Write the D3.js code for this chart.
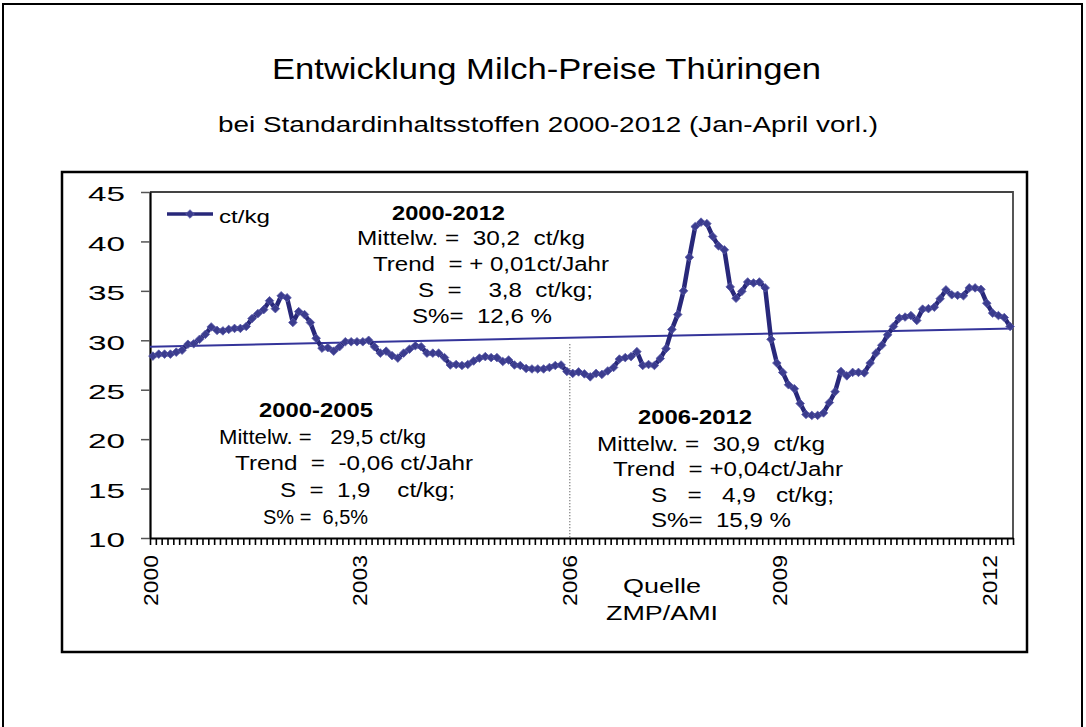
<!DOCTYPE html>
<html><head><meta charset="utf-8">
<script src="https://cdn.jsdelivr.net/npm/d3@7"></script>
<style>
body{margin:0;background:#fff}
text{font-family:"Liberation Sans",Arial,sans-serif;white-space:pre;fill:#000}
</style>
</head><body><script>
// ---------------- DATA ----------------
const title = "Entwicklung Milch-Preise Thüringen";
const subtitle = "bei Standardinhaltsstoffen 2000-2012 (Jan-April vorl.)";
const seriesName = "ct/kg";
const yearLabels = ["2000","2003","2006","2009","2012"];
const yearLabelIndex = [0,36,72,108,144];
const yTicks = [10,15,20,25,30,35,40,45];
// monthly prices Jan 2000 .. Apr 2012 (ct/kg)
const prices = [
 28.4,28.6,28.6,28.6,28.8,29.0,29.6,29.65,30.1,30.6,31.35,31.0,
 30.95,31.1,31.2,31.2,31.4,32.2,32.7,33.1,34.0,33.2,34.5,34.3,
 31.8,32.9,32.6,31.8,30.2,29.2,29.25,28.9,29.35,29.85,29.85,29.85,
 29.85,30.0,29.35,28.7,28.9,28.45,28.2,28.7,29.1,29.45,29.35,28.7,
 28.7,28.7,28.25,27.5,27.55,27.45,27.55,27.9,28.2,28.35,28.25,28.25,
 27.85,28.0,27.5,27.45,27.15,27.1,27.1,27.1,27.25,27.45,27.5,26.85,
 26.65,26.8,26.6,26.3,26.65,26.55,26.9,27.25,28.1,28.25,28.35,28.85,
 27.45,27.55,27.45,28.15,29.15,31.1,32.6,35.0,38.4,41.5,41.95,41.8,
 40.5,39.55,39.15,35.4,34.25,34.95,35.9,35.8,35.9,35.3,30.1,27.7,
 26.75,25.5,25.1,23.6,22.5,22.4,22.4,22.65,23.7,24.8,26.85,26.4,
 26.75,26.75,26.7,27.7,28.7,29.5,30.55,31.4,32.25,32.35,32.5,32.0,
 33.15,33.2,33.35,34.2,35.1,34.6,34.55,34.5,35.3,35.3,35.15,33.75,
 32.75,32.5,32.3,31.4
];
const trendEnds = [29.35, 31.2];   // linear trend 2000-2012 at axis start / end
const dividerIndex = 72;           // Jan 2006
const dividerTop = 29.6;
const blockAll = ["2000-2012","Mittelw. =  30,2  ct/kg","Trend  = + 0,01ct/Jahr","S  =    3,8  ct/kg;","S%=  12,6 %"];
const blockA = ["2000-2005","Mittelw. =   29,5 ct/kg","Trend  =  -0,06 ct/Jahr","S  =  1,9    ct/kg;","S% =  6,5%"];
const blockB = ["2006-2012","Mittelw. =  30,9  ct/kg","Trend  = +0,04ct/Jahr","S   =   4,9   ct/kg;","S%=  15,9 %"];
const sourceLines = ["Quelle","ZMP/AMI"];

// ---------------- DRAW ----------------
const W = 1086, H = 727;
const svg = d3.select("body").append("svg").attr("width", W).attr("height", H);

function txt(s, x, y, size, width, opts = {}) {
  const t = svg.append("text").attr("x", x).attr("y", y).attr("font-size", size).text(s);
  if (width) t.attr("textLength", width).attr("lengthAdjust", "spacingAndGlyphs");
  if (opts.bold) t.attr("font-weight", "bold");
  if (opts.anchor) t.attr("text-anchor", opts.anchor);
  return t;
}

// frames
svg.append("rect").attr("x", 3).attr("y", 4).attr("width", 1079).attr("height", 740)
  .attr("fill", "none").attr("stroke", "#000").attr("stroke-width", 2);
svg.append("rect").attr("x", 62).attr("y", 172).attr("width", 965).attr("height", 480)
  .attr("fill", "none").attr("stroke", "#000").attr("stroke-width", 2.5);

// titles
txt(title, 272, 79, 29, 549);
txt(subtitle, 218, 132, 22.5, 660);

// scales
const N = prices.length;
const x = d3.scaleLinear().domain([0, N]).range([150, 1013]);
const y = d3.scaleLinear().domain([10, 45]).range([538, 192]);

// plot area border (top/right)
svg.append("path").attr("d", `M${x(0)},${y(45)}H${x(N)}V${y(10)}`)
  .attr("fill", "none").attr("stroke", "#444").attr("stroke-width", 1.8);

// y axis
const gy = svg.append("g").attr("transform", `translate(${x(0)},0)`)
  .call(d3.axisLeft(y).tickValues(yTicks).tickSize(9).tickSizeOuter(0).tickPadding(16));
gy.attr("font-family", null).attr("font-size", null);
gy.select(".domain").attr("stroke", "#000").attr("stroke-width", 2.2);
gy.selectAll(".tick line").attr("stroke", "#555").attr("stroke-width", 1.5);
gy.selectAll(".tick text").attr("font-size", 21).attr("dy", "0.42em")
  .attr("textLength", 37).attr("lengthAdjust", "spacingAndGlyphs");

// x axis (monthly tick comb)
const gx = svg.append("g").attr("transform", `translate(0,${y(10)})`)
  .call(d3.axisBottom(x).tickValues(d3.range(N + 1)).tickSize(7).tickSizeOuter(0).tickFormat(""));
gx.select(".domain").attr("stroke", "#000").attr("stroke-width", 2.2);
gx.selectAll(".tick line").attr("stroke", "#000").attr("stroke-width", 1.6);

// year labels (rotated)
yearLabels.forEach((lab, k) => {
  svg.append("text").attr("transform", `translate(${x(yearLabelIndex[k])},555) rotate(-90)`)
    .attr("text-anchor", "end").attr("dominant-baseline", "central")
    .attr("font-size", 21).attr("textLength", 51).attr("lengthAdjust", "spacingAndGlyphs")
    .text(lab);
});

// divider 2006
svg.append("line").attr("x1", x(dividerIndex)).attr("x2", x(dividerIndex))
  .attr("y1", y(dividerTop)).attr("y2", y(10))
  .attr("stroke", "#333").attr("stroke-width", 1).attr("stroke-dasharray", "1,2");

// trend line
svg.append("line").attr("x1", x(0)).attr("x2", x(N))
  .attr("y1", y(trendEnds[0])).attr("y2", y(trendEnds[1]))
  .attr("stroke", "#34349a").attr("stroke-width", 2);

// price line
const lineColor = "#28287a", markColor = "#3b3c8e";
const line = d3.line().x((d, i) => x(i + 0.5)).y(d => y(d));
svg.append("path").datum(prices).attr("d", line)
  .attr("fill", "none").attr("stroke", lineColor).attr("stroke-width", 4.5).attr("stroke-linejoin", "round");
const diamond = "M0,-4.3L4.3,0L0,4.3L-4.3,0Z";
svg.append("g").selectAll("path").data(prices).join("path")
  .attr("d", diamond).attr("transform", (d, i) => `translate(${x(i + 0.5)},${y(d)})`)
  .attr("fill", markColor).attr("stroke", "#5a5aa8").attr("stroke-width", 0.8);

// legend
svg.append("line").attr("x1", 167).attr("x2", 213).attr("y1", 214).attr("y2", 214)
  .attr("stroke", lineColor).attr("stroke-width", 3.5);
svg.append("path").attr("d", diamond).attr("transform", "translate(190,214)")
  .attr("fill", markColor).attr("stroke", "#5a5aa8").attr("stroke-width", 0.8);
txt(seriesName, 219, 223, 19, 51);

// annotation blocks
function block(lines, pos) {
  lines.forEach((s, k) => txt(s, pos[k][0], pos[k][1], 20, pos[k][2], { bold: k === 0 }));
}
block(blockAll, [[392, 219.5, 113], [357, 245, 228], [373, 271, 236], [418, 297, 175], [412, 323, 140]]);
block(blockA, [[259, 417, 114], [219, 443.5, 207], [235, 470, 238], [280, 497, 175], [263, 523.5, 0]]);
block(blockB, [[638, 424, 114], [597, 451, 228], [613, 476, 230], [651, 502, 183], [651, 527, 140]]);

// source
txt(sourceLines[0], 662, 593, 20, 78, { anchor: "middle" });
txt(sourceLines[1], 662, 620, 20, 112, { anchor: "middle" });
</script></body></html>
